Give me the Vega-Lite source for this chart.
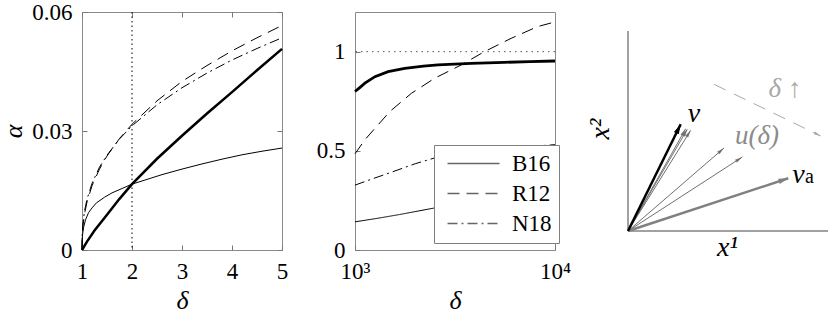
{
  "$schema": "https://vega.github.io/schema/vega-lite/v6.json",
  "padding": {"left": 0, "top": 0, "right": 0, "bottom": 0},
  "bounds": "flush",
  "spacing": 73,
  "config": {
    "font": "Times New Roman",
    "view": {"stroke": "#8a8a8a", "strokeWidth": 1},
    "text": {"font": "Times New Roman"},
    "axis": {
      "grid": false, "domain": false, "labelFontSize": 23, "labelColor": "#000",
      "labelFont": "Times New Roman", "titleFont": "Times New Roman",
      "tickColor": "#777", "tickSize": -5, "labelPadding": 15, "labelFlush": false, "format": "~g",
      "titleFontSize": 26, "titleFontStyle": "italic", "titleFontWeight": "normal",
      "titleColor": "#000", "titlePadding": 4
    },
    "legend": {"labelFont": "Times New Roman"}
  },
  "datasets": {
    "left": [
      {"d": 1, "a": 0, "m": "present"}, {"d": 1.1, "a": 0.0021, "m": "present"}, {"d": 1.25, "a": 0.0049, "m": "present"},
      {"d": 1.5, "a": 0.0089, "m": "present"}, {"d": 1.75, "a": 0.0129, "m": "present"}, {"d": 2, "a": 0.0166, "m": "present"},
      {"d": 2.5, "a": 0.023, "m": "present"}, {"d": 3, "a": 0.0288, "m": "present"}, {"d": 3.5, "a": 0.0344, "m": "present"},
      {"d": 4, "a": 0.0398, "m": "present"}, {"d": 4.5, "a": 0.0453, "m": "present"}, {"d": 5, "a": 0.0507, "m": "present"},
      {"d": 1, "a": 0, "m": "B16"}, {"d": 1.005, "a": 0.0028, "m": "B16"}, {"d": 1.01, "a": 0.0037, "m": "B16"},
      {"d": 1.03, "a": 0.0056, "m": "B16"}, {"d": 1.07, "a": 0.0076, "m": "B16"}, {"d": 1.13, "a": 0.0094, "m": "B16"},
      {"d": 1.2, "a": 0.0106, "m": "B16"}, {"d": 1.29, "a": 0.0119, "m": "B16"}, {"d": 1.45, "a": 0.0133, "m": "B16"},
      {"d": 1.6, "a": 0.0144, "m": "B16"}, {"d": 1.8, "a": 0.0155, "m": "B16"}, {"d": 2, "a": 0.0166, "m": "B16"},
      {"d": 2.3, "a": 0.0178, "m": "B16"}, {"d": 2.6, "a": 0.019, "m": "B16"}, {"d": 3, "a": 0.0204, "m": "B16"},
      {"d": 3.4, "a": 0.0217, "m": "B16"}, {"d": 3.8, "a": 0.0229, "m": "B16"}, {"d": 4.2, "a": 0.024, "m": "B16"},
      {"d": 4.6, "a": 0.0249, "m": "B16"}, {"d": 5, "a": 0.0257, "m": "B16"},
      {"d": 1, "a": 0, "m": "R12"}, {"d": 1.005, "a": 0.0034, "m": "R12"}, {"d": 1.02, "a": 0.0062, "m": "R12"},
      {"d": 1.05, "a": 0.0091, "m": "R12"}, {"d": 1.1, "a": 0.0121, "m": "R12"}, {"d": 1.2, "a": 0.0162, "m": "R12"},
      {"d": 1.35, "a": 0.0204, "m": "R12"}, {"d": 1.5, "a": 0.0237, "m": "R12"}, {"d": 1.75, "a": 0.0281, "m": "R12"},
      {"d": 2, "a": 0.0317, "m": "R12"}, {"d": 2.5, "a": 0.0376, "m": "R12"}, {"d": 3, "a": 0.0425, "m": "R12"},
      {"d": 3.5, "a": 0.0465, "m": "R12"}, {"d": 4, "a": 0.0502, "m": "R12"}, {"d": 4.5, "a": 0.0535, "m": "R12"},
      {"d": 5, "a": 0.0566, "m": "R12"},
      {"d": 1, "a": 0, "m": "N18"}, {"d": 1.005, "a": 0.004, "m": "N18"}, {"d": 1.02, "a": 0.0069, "m": "N18"},
      {"d": 1.05, "a": 0.0098, "m": "N18"}, {"d": 1.1, "a": 0.0128, "m": "N18"}, {"d": 1.2, "a": 0.0168, "m": "N18"},
      {"d": 1.35, "a": 0.0209, "m": "N18"}, {"d": 1.5, "a": 0.0239, "m": "N18"}, {"d": 1.75, "a": 0.028, "m": "N18"},
      {"d": 2, "a": 0.0313, "m": "N18"}, {"d": 2.5, "a": 0.0366, "m": "N18"}, {"d": 3, "a": 0.0409, "m": "N18"},
      {"d": 3.5, "a": 0.0446, "m": "N18"}, {"d": 4, "a": 0.0479, "m": "N18"}, {"d": 4.5, "a": 0.0508, "m": "N18"},
      {"d": 5, "a": 0.0535, "m": "N18"}
    ],
    "mid": [
      {"d": 1000, "r": 0.799, "m": "present"}, {"d": 1060, "r": 0.82, "m": "present"}, {"d": 1121, "r": 0.841, "m": "present"},
      {"d": 1258, "r": 0.874, "m": "present"}, {"d": 1464, "r": 0.899, "m": "present"}, {"d": 1773, "r": 0.916, "m": "present"},
      {"d": 2200, "r": 0.927, "m": "present"}, {"d": 2598, "r": 0.933, "m": "present"}, {"d": 3810, "r": 0.941, "m": "present"},
      {"d": 5572, "r": 0.946, "m": "present"}, {"d": 7500, "r": 0.95, "m": "present"}, {"d": 10000, "r": 0.953, "m": "present"},
      {"d": 1000, "r": 0.142, "m": "B16"}, {"d": 1300, "r": 0.16, "m": "B16"}, {"d": 1674, "r": 0.179, "m": "B16"},
      {"d": 2500, "r": 0.212, "m": "B16"}, {"d": 4000, "r": 0.235, "m": "B16"}, {"d": 6000, "r": 0.248, "m": "B16"},
      {"d": 10000, "r": 0.258, "m": "B16"},
      {"d": 1000, "r": 0.485, "m": "R12"}, {"d": 1121, "r": 0.556, "m": "R12"}, {"d": 1493, "r": 0.698, "m": "R12"},
      {"d": 1914, "r": 0.79, "m": "R12"}, {"d": 2502, "r": 0.866, "m": "R12"}, {"d": 3396, "r": 0.933, "m": "R12"},
      {"d": 4436, "r": 1.0, "m": "R12"}, {"d": 6030, "r": 1.067, "m": "R12"}, {"d": 8166, "r": 1.126, "m": "R12"},
      {"d": 10000, "r": 1.15, "m": "R12"},
      {"d": 1000, "r": 0.327, "m": "N18"}, {"d": 1200, "r": 0.356, "m": "N18"}, {"d": 1500, "r": 0.39, "m": "N18"},
      {"d": 2000, "r": 0.435, "m": "N18"}, {"d": 2500, "r": 0.464, "m": "N18"}, {"d": 3500, "r": 0.49, "m": "N18"},
      {"d": 5000, "r": 0.508, "m": "N18"}, {"d": 7000, "r": 0.52, "m": "N18"}, {"d": 10000, "r": 0.531, "m": "N18"}
    ],
    "arrows": [
      {"k": "v", "x": 0, "y": 0, "tx": 52.7, "ty": 106.7},
      {"k": "u", "x": 0, "y": 0, "tx": 57.7, "ty": 102.3},
      {"k": "u", "x": 0, "y": 0, "tx": 59.3, "ty": 101.7},
      {"k": "u", "x": 0, "y": 0, "tx": 62.7, "ty": 100.7},
      {"k": "u", "x": 0, "y": 0, "tx": 96, "ty": 83},
      {"k": "u", "x": 0, "y": 0, "tx": 114.3, "ty": 74},
      {"k": "va", "x": 0, "y": 0, "tx": 160.3, "ty": 52.7},
      {"k": "dir", "x": 86, "y": 146.7, "tx": 192.7, "ty": 95}
    ],
    "labels": [
      {"t": "v", "x": 66, "y": 117, "k": "main"},
      {"t": "v", "x": 170.5, "y": 56.5, "k": "main"},
      {"t": "a", "x": 181.5, "y": 54, "k": "sub"},
      {"t": "u(δ)", "x": 129, "y": 95, "k": "u"},
      {"t": "δ ↑", "x": 157, "y": 142, "k": "dir"},
      {"t": "x¹", "x": 99.5, "y": -16.5, "k": "ax"},
      {"t": "x²", "x": -27.5, "y": 102, "k": "ay"}
    ]
  },
  "hconcat": [
    {
      "width": 200, "height": 238,
      "data": {"name": "left"},
      "layer": [
        {
          "data": {"values": [{"d": 2}]},
          "mark": {"type": "rule", "color": "#000", "strokeWidth": 1, "strokeDash": [1.5, 3]},
          "encoding": {
            "x": {"field": "d", "type": "quantitative", "scale": {"domain": [1, 5], "nice": false},
                  "axis": {"values": [1, 2, 3, 4, 5], "title": "δ", "labelFont": "Times New Roman", "titleFont": "Times New Roman"}}
          }
        },
        {
          "transform": [{"filter": "datum.m === 'B16'"}],
          "mark": {"type": "line", "color": "#000", "strokeWidth": 1},
          "encoding": {
            "x": {"field": "d", "type": "quantitative", "scale": {"domain": [1, 5], "nice": false}, "axis": null},
            "y": {"field": "a", "type": "quantitative", "scale": {"domain": [0, 0.06], "nice": false},
                  "axis": {"values": [0, 0.03, 0.06], "title": "α", "titlePadding": 5, "labelFont": "Times New Roman", "titleFont": "Times New Roman"}}
          }
        },
        {
          "transform": [{"filter": "datum.m === 'R12'"}],
          "mark": {"type": "line", "color": "#000", "strokeWidth": 1, "strokeDash": [12, 7]},
          "encoding": {
            "x": {"field": "d", "type": "quantitative", "axis": null},
            "y": {"field": "a", "type": "quantitative", "axis": null}
          }
        },
        {
          "transform": [{"filter": "datum.m === 'N18'"}],
          "mark": {"type": "line", "color": "#000", "strokeWidth": 1, "strokeDash": [10, 4, 2, 4]},
          "encoding": {
            "x": {"field": "d", "type": "quantitative", "axis": null},
            "y": {"field": "a", "type": "quantitative", "axis": null}
          }
        },
        {
          "transform": [{"filter": "datum.m === 'present'"}],
          "mark": {"type": "line", "color": "#000", "strokeWidth": 2.5},
          "encoding": {
            "x": {"field": "d", "type": "quantitative", "axis": null},
            "y": {"field": "a", "type": "quantitative", "axis": null}
          }
        },
        {
          "mark": {"type": "point", "opacity": 0},
          "encoding": {
            "x": {"field": "d", "type": "quantitative",
                  "axis": {"orient": "top", "labels": false, "title": null, "values": [1, 2, 3, 4, 5]}},
            "y": {"field": "a", "type": "quantitative",
                  "axis": {"orient": "right", "labels": false, "title": null, "values": [0, 0.03, 0.06]}}
          }
        }
      ],
      "resolve": {"axis": {"x": "independent", "y": "independent"}}
    },
    {
      "width": 200, "height": 238,
      "data": {"name": "mid"},
      "layer": [
        {
          "data": {"values": [{"r": 1}]},
          "mark": {"type": "rule", "color": "#555", "strokeWidth": 1, "strokeDash": [1.5, 4]},
          "encoding": {
            "y": {"field": "r", "type": "quantitative", "scale": {"domain": [0, 1.2], "nice": false},
                  "axis": {"values": [0, 0.5, 1], "title": null, "labelFont": "Times New Roman"}}
          }
        },
        {
          "transform": [{"filter": "datum.m === 'present'"}],
          "mark": {"type": "line", "color": "#000", "strokeWidth": 2.8},
          "encoding": {
            "x": {"field": "d", "type": "quantitative", "scale": {"type": "log", "domain": [1000, 10000], "nice": false},
                  "axis": {"values": [1000, 10000], "labelExpr": "datum.value < 5000 ? '10³' : '10⁴'", "title": "δ", "labelOverlap": false, "labelFont": "Times New Roman", "titleFont": "Times New Roman"}},
            "y": {"field": "r", "type": "quantitative"}
          }
        },
        {
          "transform": [{"filter": "datum.m !== 'present'"}],
          "mark": {"type": "line", "color": "#000", "strokeWidth": 1},
          "encoding": {
            "x": {"field": "d", "type": "quantitative"},
            "y": {"field": "r", "type": "quantitative"},
            "strokeDash": {
              "field": "m", "type": "nominal",
              "scale": {"domain": ["B16", "R12", "N18"], "range": [[1, 0], [12, 7], [10, 4, 2, 4]]},
              "legend": {
                "orient": "none", "legendX": 352, "legendY": 133, "title": null,
                "symbolType": "M-5.2,0H5.2", "symbolSize": 100, "symbolStrokeWidth": 1.3,
                "symbolOffset": 21, "symbolStrokeColor": "#666", "labelFontSize": 23, "labelColor": "#000",
                "labelFont": "Times New Roman",
                "labelOffset": 27, "rowPadding": 6, "padding": 7,
                "strokeColor": "#808080", "fillColor": "#fff"
              }
            }
          }
        }
      ]
    },
    {
      "width": 200, "height": 238,
      "view": {"stroke": null},
      "layer": [
        {
          "data": {"values": [{"x": 0, "y": 0, "x2": 0, "y2": 200}, {"x": 0, "y": 0, "x2": 200, "y2": 0}]},
          "mark": {"type": "rule", "color": "#444", "strokeWidth": 1},
          "encoding": {
            "x": {"field": "x", "type": "quantitative", "scale": {"domain": [0, 200], "nice": false}, "axis": null},
            "y": {"field": "y", "type": "quantitative", "scale": {"domain": [-19, 219], "nice": false}, "axis": null},
            "x2": {"field": "x2"}, "y2": {"field": "y2"}
          }
        },
        {
          "data": {"name": "arrows"},
          "transform": [{"filter": "datum.k === 'u'"}],
          "mark": {"type": "rule", "color": "#707070", "strokeWidth": 1},
          "encoding": {
            "x": {"field": "x", "type": "quantitative"}, "y": {"field": "y", "type": "quantitative"},
            "x2": {"field": "tx"}, "y2": {"field": "ty"}
          }
        },
        {
          "data": {"name": "arrows"},
          "transform": [{"filter": "datum.k === 'dir'"}],
          "mark": {"type": "rule", "color": "#a8a8a8", "strokeWidth": 1, "strokeDash": [13, 9]},
          "encoding": {
            "x": {"field": "x", "type": "quantitative"}, "y": {"field": "y", "type": "quantitative"},
            "x2": {"field": "tx"}, "y2": {"field": "ty"}
          }
        },
        {
          "data": {"name": "arrows"},
          "transform": [{"filter": "datum.k === 'va'"}],
          "mark": {"type": "rule", "color": "#808080", "strokeWidth": 2.5},
          "encoding": {
            "x": {"field": "x", "type": "quantitative"}, "y": {"field": "y", "type": "quantitative"},
            "x2": {"field": "tx"}, "y2": {"field": "ty"}
          }
        },
        {
          "data": {"name": "arrows"},
          "transform": [{"filter": "datum.k === 'v'"}],
          "mark": {"type": "rule", "color": "#000", "strokeWidth": 2.5},
          "encoding": {
            "x": {"field": "x", "type": "quantitative"}, "y": {"field": "y", "type": "quantitative"},
            "x2": {"field": "tx"}, "y2": {"field": "ty"}
          }
        },
        {
          "data": {"name": "arrows"},
          "transform": [{"filter": "datum.k === 'u'"}, {"calculate": "atan2(datum.tx - datum.x, datum.ty - datum.y) * 180 / PI", "as": "ang"}],
          "mark": {"type": "point", "filled": true, "opacity": 1, "color": "#707070", "size": 70, "shape": "M0,0L-0.4,1.8L0.4,1.8Z"},
          "encoding": {
            "x": {"field": "tx", "type": "quantitative"}, "y": {"field": "ty", "type": "quantitative"},
            "angle": {"field": "ang", "type": "quantitative", "scale": null}
          }
        },
        {
          "data": {"name": "arrows"},
          "transform": [{"filter": "datum.k === 'dir'"}, {"calculate": "atan2(datum.tx - datum.x, datum.ty - datum.y) * 180 / PI", "as": "ang"}],
          "mark": {"type": "point", "filled": true, "opacity": 1, "color": "#a8a8a8", "size": 60, "shape": "M0,0L-0.4,1.8L0.4,1.8Z"},
          "encoding": {
            "x": {"field": "tx", "type": "quantitative"}, "y": {"field": "ty", "type": "quantitative"},
            "angle": {"field": "ang", "type": "quantitative", "scale": null}
          }
        },
        {
          "data": {"name": "arrows"},
          "transform": [{"filter": "datum.k === 'va'"}, {"calculate": "atan2(datum.tx - datum.x, datum.ty - datum.y) * 180 / PI", "as": "ang"}],
          "mark": {"type": "point", "filled": true, "opacity": 1, "color": "#808080", "size": 120, "shape": "M0,0L-0.5,1.8L0.5,1.8Z"},
          "encoding": {
            "x": {"field": "tx", "type": "quantitative"}, "y": {"field": "ty", "type": "quantitative"},
            "angle": {"field": "ang", "type": "quantitative", "scale": null}
          }
        },
        {
          "data": {"name": "arrows"},
          "transform": [{"filter": "datum.k === 'v'"}, {"calculate": "atan2(datum.tx - datum.x, datum.ty - datum.y) * 180 / PI", "as": "ang"}],
          "mark": {"type": "point", "filled": true, "opacity": 1, "color": "#000", "size": 120, "shape": "M0,0L-0.5,1.8L0.5,1.8Z"},
          "encoding": {
            "x": {"field": "tx", "type": "quantitative"}, "y": {"field": "ty", "type": "quantitative"},
            "angle": {"field": "ang", "type": "quantitative", "scale": null}
          }
        },
        {
          "data": {"name": "labels"},
          "transform": [{"filter": "datum.k === 'main'"}],
          "mark": {"type": "text", "font": "Times New Roman", "fontSize": 28, "fontStyle": "italic", "color": "#000", "baseline": "middle", "align": "center"},
          "encoding": {"x": {"field": "x", "type": "quantitative"}, "y": {"field": "y", "type": "quantitative"}, "text": {"field": "t"}}
        },
        {
          "data": {"name": "labels"},
          "transform": [{"filter": "datum.k === 'sub'"}],
          "mark": {"type": "text", "font": "Times New Roman", "fontSize": 20, "color": "#000", "baseline": "middle", "align": "center"},
          "encoding": {"x": {"field": "x", "type": "quantitative"}, "y": {"field": "y", "type": "quantitative"}, "text": {"field": "t"}}
        },
        {
          "data": {"name": "labels"},
          "transform": [{"filter": "datum.k === 'u'"}],
          "mark": {"type": "text", "font": "Times New Roman", "fontSize": 27, "fontStyle": "italic", "color": "#8c8c8c", "baseline": "middle", "align": "center"},
          "encoding": {"x": {"field": "x", "type": "quantitative"}, "y": {"field": "y", "type": "quantitative"}, "text": {"field": "t"}}
        },
        {
          "data": {"name": "labels"},
          "transform": [{"filter": "datum.k === 'dir'"}],
          "mark": {"type": "text", "font": "Times New Roman", "fontSize": 27, "fontStyle": "italic", "color": "#a8a8a8", "baseline": "middle", "align": "center"},
          "encoding": {"x": {"field": "x", "type": "quantitative"}, "y": {"field": "y", "type": "quantitative"}, "text": {"field": "t"}}
        },
        {
          "data": {"name": "labels"},
          "transform": [{"filter": "datum.k === 'ax'"}],
          "mark": {"type": "text", "font": "Times New Roman", "fontSize": 28, "fontStyle": "italic", "color": "#000", "baseline": "middle", "align": "center"},
          "encoding": {"x": {"field": "x", "type": "quantitative"}, "y": {"field": "y", "type": "quantitative"}, "text": {"field": "t"}}
        },
        {
          "data": {"name": "labels"},
          "transform": [{"filter": "datum.k === 'ay'"}],
          "mark": {"type": "text", "font": "Times New Roman", "fontSize": 28, "fontStyle": "italic", "color": "#000", "baseline": "middle", "align": "center", "angle": 270},
          "encoding": {"x": {"field": "x", "type": "quantitative"}, "y": {"field": "y", "type": "quantitative"}, "text": {"field": "t"}}
        }
      ]
    }
  ]
}
